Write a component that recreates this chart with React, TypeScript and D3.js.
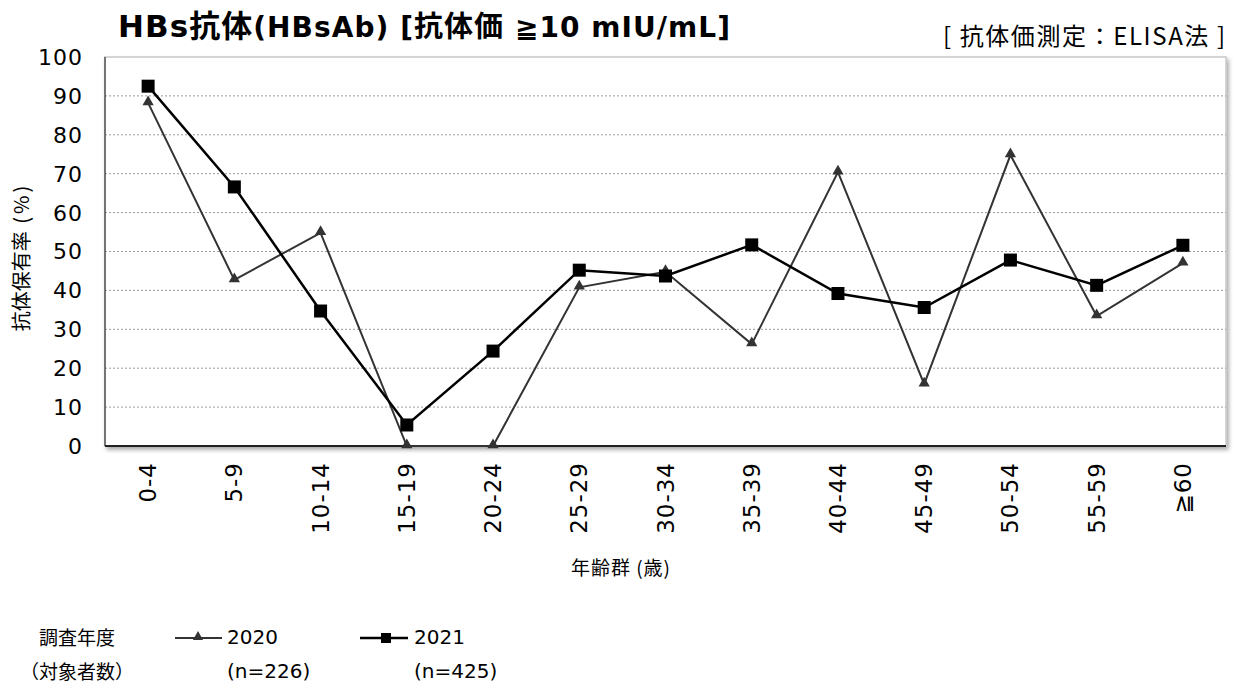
import React from 'react';
import * as d3 from 'd3';

const ageGroups = ['0-4', '5-9', '10-14', '15-19', '20-24', '25-29', '30-34', '35-39', '40-44', '45-49', '50-54', '55-59', '≧60'];
const values2020 = [88.2, 42.7, 54.8, 0, 0, 40.8, 44.8, 26.2, 70.4, 15.9, 74.8, 33.4, 47.0];
const values2021 = [92.5, 66.6, 34.7, 5.4, 24.4, 45.2, 43.7, 51.7, 39.2, 35.6, 47.8, 41.3, 51.6];
const yTicks = [0, 10, 20, 30, 40, 50, 60, 70, 80, 90, 100];

const W = 1236;
const H = 688;
const margin = { top: 57, right: 10, bottom: 242, left: 105 };
const latin = 'Verdana, "DejaVu Sans", sans-serif';
const jp = '"Noto Sans CJK JP", sans-serif';

const App: React.FC = () => {
  const x = d3.scaleBand<string>()
    .domain(ageGroups)
    .range([margin.left, W - margin.right]);
  const y = d3.scaleLinear()
    .domain([0, 100])
    .range([H - margin.bottom, margin.top]);

  const cx = (i: number) => (x(ageGroups[i]) as number) + x.bandwidth() / 2;
  const line = d3.line<number>()
    .x((_, i) => cx(i))
    .y(d => y(d));

  const tri = d3.symbol().type(d3.symbolTriangle).size(55)() as string;
  const triSmall = d3.symbol().type(d3.symbolTriangle).size(45)() as string;
  const x0 = margin.left;
  const x1 = W - margin.right;
  const yBottom = y(0);
  const yTop = y(100);

  return (
    <svg width={W} height={H} style={{ position: 'absolute', left: 0, top: 0, background: '#fff' }}>
      <defs>
        <filter id="shadow" x="-5%" y="-5%" width="110%" height="115%">
          <feDropShadow dx="2" dy="3" stdDeviation="2" floodColor="#000" floodOpacity="0.35" />
        </filter>
      </defs>
      <rect x={0} y={0} width={W} height={H} fill="#fff" />

      {/* title */}
      <text x={118} y={37} textLength={612} lengthAdjust="spacing" fontFamily={latin} fontWeight="bold" fontSize={31} fill="#000">
        HBs<tspan fontFamily={jp}>抗体</tspan><tspan fontSize={28}>(HBsAb) [</tspan><tspan fontFamily={jp} fontSize={29}>抗体価</tspan><tspan fontSize={28}> ≧10 mIU/mL]</tspan>
      </text>
      <text x={943} y={45} textLength={282} lengthAdjust="spacing" fontFamily={jp} fontSize={24} fill="#000">
        [ 抗体価測定：ELISA法 ]
      </text>

      {/* plot frame */}
      <rect x={x0} y={yTop} width={x1 - x0} height={yBottom - yTop} fill="#fff" stroke="#c8c8c8" strokeWidth={1.5} filter="url(#shadow)" />

      {yTicks.filter(t => t > 0 && t < 100).map(t => (
        <line key={t} x1={x0} x2={x1} y1={y(t)} y2={y(t)} stroke="#9a9a9a" strokeWidth={1} strokeDasharray="2,2" />
      ))}
      <line x1={x0} x2={x0} y1={yTop} y2={yBottom} stroke="#555" strokeWidth={1.5} />
      <line x1={x0} x2={x1} y1={yBottom} y2={yBottom} stroke="#222" strokeWidth={2} />

      {/* y ticks */}
      {yTicks.map(t => (
        <text key={t} x={83} y={y(t)} dy="0.36em" textAnchor="end" letterSpacing={1} fontFamily={latin} fontSize={22} fill="#000">{t}</text>
      ))}
      <text transform={`translate(20,257) rotate(-90)`} textAnchor="middle" dominantBaseline="central" fontFamily={jp} fontSize={20} fill="#000">
        抗体保有率<tspan letterSpacing={3}> (%)</tspan>
      </text>

      {/* x ticks */}
      {ageGroups.map((g, i) => (
        <text key={g} transform={`translate(${cx(i)},${yBottom + 16}) rotate(-90)`} textAnchor="end" dominantBaseline="central" letterSpacing={1} fontFamily={latin} fontSize={23} fill="#000">{g}</text>
      ))}
      <text x={621} y={575} textAnchor="middle" letterSpacing={1} fontFamily={jp} fontSize={19} fill="#000">年齢群 (歳)</text>

      {/* 2020 series */}
      <path d={line(values2020) as string} fill="none" stroke="#333" strokeWidth={2} />
      {values2020.map((v, i) => (
        <path key={i} d={tri} transform={`translate(${cx(i)},${y(v) - 1})`} fill="#333" />
      ))}

      {/* 2021 series */}
      <path d={line(values2021) as string} fill="none" stroke="#000" strokeWidth={2.5} />
      {values2021.map((v, i) => (
        <rect key={i} x={cx(i) - 6.5} y={y(v) - 6.5} width={13} height={13} fill="#000" />
      ))}

      {/* legend */}
      <text x={77} y={645} textAnchor="middle" fontFamily={jp} fontSize={19} fill="#000">調査年度</text>
      <text x={77} y={679} textAnchor="middle" fontFamily={jp} fontSize={19} fill="#000">（対象者数）</text>

      <line x1={175} x2={222} y1={638} y2={638} stroke="#333" strokeWidth={2} />
      <path d={triSmall} transform="translate(198,637)" fill="#333" />
      <text x={227} y={644} fontFamily={latin} fontSize={20} fill="#000">2020</text>
      <text x={227} y={678} fontFamily={latin} fontSize={20} fill="#000">(n=226)</text>

      <line x1={360} x2={408} y1={638} y2={638} stroke="#000" strokeWidth={2.5} />
      <rect x={381} y={633} width={10} height={10} fill="#000" />
      <text x={414} y={644} fontFamily={latin} fontSize={20} fill="#000">2021</text>
      <text x={414} y={678} fontFamily={latin} fontSize={20} fill="#000">(n=425)</text>
    </svg>
  );
};

export default App;
